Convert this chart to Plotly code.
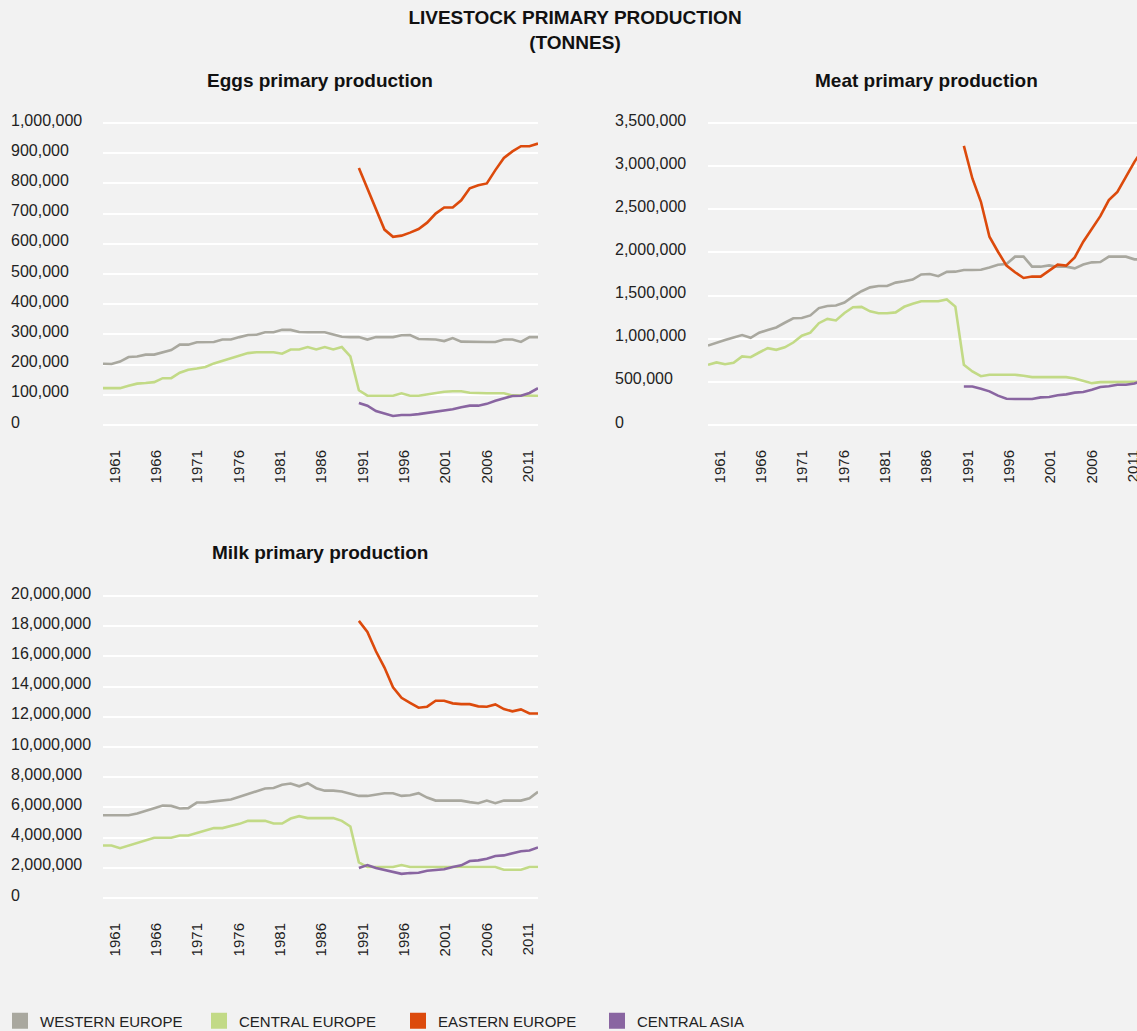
import plotly.graph_objects as go

# ---- data (thousand tonnes for eggs/meat, million tonnes for milk) ----
years_all = list(range(1961, 2013))
years_post = list(range(1991, 2013))
tick_years = list(range(1961, 2012, 5))

regions = ["WESTERN EUROPE", "CENTRAL EUROPE", "EASTERN EUROPE", "CENTRAL ASIA"]
colors = ["#a9a89f", "#c2da86", "#dc4a0c", "#8965a1"]

eggs_western = [203, 202, 210, 225, 227, 233, 233, 241, 248, 266,
                266, 274, 275, 275, 283, 283, 291, 298, 299, 307,
                307, 315, 315, 308, 307, 307, 307, 300, 292, 291,
                291, 283, 291, 291, 291, 297, 298, 285, 283, 283,
                278, 288, 276, 275, 275, 275, 275, 283, 283, 275,
                291, 291]
eggs_central = [122, 122, 122, 130, 137, 139, 142, 155, 155, 173,
                183, 187, 192, 204, 212, 220, 229, 238, 241, 241,
                241, 236, 250, 250, 258, 250, 258, 250, 258, 227,
                115, 97, 97, 97, 97, 105, 97, 97, 102, 105,
                110, 112, 112, 107, 105, 105, 105, 105, 98, 97,
                97, 97]
eggs_eastern = [851, 783, 717, 647, 623, 627, 637, 649, 670, 700,
                720, 720, 744, 784, 794, 800, 844, 884, 906, 923,
                923, 932]
eggs_asia = [73, 64, 46, 37, 30, 33, 33, 36, 40, 44,
             47, 52, 59, 64, 64, 70, 80, 88, 96, 97,
             106, 122]

meat_western = [921, 956, 985, 1015, 1042, 1010, 1070, 1100, 1130, 1185,
                1237, 1240, 1270, 1355, 1380, 1385, 1420, 1490, 1550, 1595,
                1611, 1611, 1650, 1665, 1685, 1745, 1750, 1725, 1775, 1777,
                1796, 1796, 1800, 1825, 1858, 1866, 1951, 1951, 1835, 1835,
                1850, 1835, 1835, 1815, 1860, 1885, 1889, 1951, 1951, 1951,
                1920, 1920]
meat_central = [698, 725, 705, 720, 795, 786, 840, 890, 871, 900,
                956, 1035, 1070, 1180, 1230, 1212, 1299, 1365, 1369, 1318,
                1295, 1295, 1305, 1370, 1405, 1434, 1434, 1434, 1455, 1372,
                698, 621, 565, 582, 582, 582, 582, 570, 555, 555,
                555, 555, 555, 540, 510, 485, 497, 497, 497, 497,
                497, 500]
meat_eastern = [3234, 2857, 2587, 2182, 2008, 1847, 1770, 1704, 1720, 1719,
                1789, 1858, 1847, 1943, 2124, 2278, 2421, 2606, 2702, 2876,
                3049, 3200]
meat_asia = [447, 447, 420, 390, 340, 305, 301, 301, 301, 320,
             324, 345, 355, 375, 382, 409, 440, 450, 466, 466,
             480, 520]

milk_western = [5.48, 5.48, 5.48, 5.48, 5.60, 5.75, 5.95, 6.12, 6.10, 5.93,
                5.95, 6.32, 6.32, 6.40, 6.48, 6.52, 6.70, 6.90, 7.10, 7.25,
                7.28, 7.50, 7.58, 7.40, 7.60, 7.27, 7.11, 7.11, 7.05, 6.90,
                6.76, 6.76, 6.85, 6.94, 6.94, 6.76, 6.80, 6.94, 6.65, 6.45,
                6.45, 6.45, 6.45, 6.35, 6.28, 6.45, 6.28, 6.45, 6.45, 6.45,
                6.61, 7.03]
milk_central = [3.48, 3.48, 3.30, 3.48, 3.63, 3.80, 3.99, 3.99, 3.99, 4.14,
                4.14, 4.30, 4.47, 4.63, 4.63, 4.76, 4.91, 5.11, 5.11, 5.11,
                4.93, 4.93, 5.26, 5.42, 5.29, 5.29, 5.29, 5.29, 5.11, 4.74,
                2.36, 2.05, 2.05, 2.05, 2.05, 2.18, 2.05, 2.05, 2.05, 2.05,
                2.05, 2.05, 2.05, 2.05, 2.05, 2.05, 2.05, 1.87, 1.87, 1.87,
                2.05, 2.05]
milk_eastern = [18.35, 17.62, 16.34, 15.26, 13.96, 13.26, 12.93, 12.60, 12.67, 13.06,
                13.06, 12.89, 12.84, 12.84, 12.69, 12.67, 12.82, 12.51, 12.36, 12.49,
                12.22, 12.22]
milk_asia = [1.98, 2.18, 1.98, 1.85, 1.72, 1.60, 1.65, 1.67, 1.80, 1.83,
             1.90, 2.05, 2.16, 2.45, 2.49, 2.60, 2.78, 2.82, 2.95, 3.10,
             3.15, 3.35]

eggs_ticks = list(range(0, 1000001, 100000))
meat_ticks = list(range(0, 3500001, 500000))
milk_ticks = list(range(0, 20000001, 2000000))

FONT = "Liberation Sans, Arial, Helvetica, sans-serif"
BG = "#f2f2f2"
W, H = 1137, 1031
PAD = 2  # px kept above/below the outer gridlines so they are not dropped
# year labels in the original sit on a slightly tighter pitch than the data
LABEL_OFFSET = 12      # px from plot left edge to first label
LABEL_PITCH = 413 / 50  # px per year between labels

fig = go.Figure()


def add_panel(xa, ya, series, scale):
    """Adds the four regional lines of one panel"""
    for i, (yrs, vals) in enumerate(series):
        fig.add_trace(go.Scatter(
            x=yrs, y=[v * scale for v in vals],
            mode="lines", line=dict(color=colors[i], width=2.6),
            xaxis=xa, yaxis=ya, showlegend=False, hoverinfo="skip"))


def x_axis(left_px, right_px, end_year, anchor):
    return dict(domain=[left_px / W, right_px / W], range=[1961, end_year], anchor=anchor,
                showticklabels=False, showgrid=False, zeroline=False, showline=False,
                ticks="", automargin=False)


def label_axis(left_px, right_px, base, anchor):
    """overlay axis that only carries the rotated year labels"""
    r0 = 1961 - LABEL_OFFSET / LABEL_PITCH
    r1 = r0 + (right_px - left_px) / LABEL_PITCH
    return dict(overlaying=base, anchor=anchor, side="bottom",
                domain=[left_px / W, right_px / W], range=[r0, r1],
                tickvals=tick_years, ticktext=[str(y) for y in tick_years],
                tickangle=-90, showgrid=False, zeroline=False, showline=False,
                ticks="", tickfont=dict(size=15, color="#222"),
                ticklabelstandoff=19, ticklabeloverflow="allow", automargin=False)


def y_axis(top_px, bottom_px, ticks, anchor):
    """y axis whose first/last tick sit at top_px/bottom_px"""
    span = bottom_px - top_px
    vmax = ticks[-1]
    pad = vmax * PAD / span
    return dict(domain=[1 - (bottom_px + PAD) / H, 1 - (top_px - PAD) / H],
                range=[-pad, vmax + pad], tickvals=ticks, anchor=anchor,
                showticklabels=False, showgrid=True, gridcolor="white",
                gridwidth=2, zeroline=False, showline=False, ticks="",
                automargin=False)


add_panel("x", "y", [(years_all, eggs_western), (years_all, eggs_central),
                     (years_post, eggs_eastern), (years_post, eggs_asia)], 1000)
add_panel("x2", "y2", [(years_all, meat_western), (years_all, meat_central),
                       (years_post, meat_eastern), (years_post, meat_asia)], 1000)
add_panel("x3", "y3", [(years_all, milk_western), (years_all, milk_central),
                       (years_post, milk_eastern), (years_post, milk_asia)], 1e6)

# empty traces so the label axes get drawn
for xa, ya in [("x4", "y"), ("x5", "y2"), ("x6", "y3")]:
    fig.add_trace(go.Scatter(x=[None], y=[None], xaxis=xa, yaxis=ya,
                             showlegend=False, hoverinfo="skip"))

# legend-only square markers
for name, c in zip(regions, colors):
    fig.add_trace(go.Scatter(x=[None], y=[None], mode="markers", name=name,
                             marker=dict(symbol="square", size=16, color=c),
                             xaxis="x", yaxis="y"))

# the meat panel runs past the right edge of the picture (2012 falls off-canvas)
fig.update_layout(
    width=W, height=H,
    margin=dict(l=0, r=0, t=0, b=0, autoexpand=False),
    paper_bgcolor=BG, plot_bgcolor=BG,
    font=dict(family=FONT, color="#222"),
    title=dict(text="LIVESTOCK PRIMARY PRODUCTION<br>(TONNES)",
               x=575 / W, xanchor="center", y=1 - 24 / H, yanchor="middle",
               font=dict(size=19, family=FONT, color="#111", weight="bold")),
    xaxis=x_axis(103, 538, 2012, "y"),
    yaxis=y_axis(123, 425, eggs_ticks, "x"),
    xaxis2=x_axis(708, W, 2011.3, "y2"),
    yaxis2=y_axis(123, 425, meat_ticks, "x2"),
    xaxis3=x_axis(103, 538, 2012, "y3"),
    yaxis3=y_axis(596, 898, milk_ticks, "x3"),
    xaxis4=label_axis(103, 538, "x", "y"),
    xaxis5=label_axis(708, W, "x2", "y2"),
    xaxis6=label_axis(103, 538, "x3", "y3"),
    legend=dict(orientation="h", x=0, xanchor="left", y=1 - 1021 / H, yanchor="middle",
                entrywidth=154, font=dict(size=15, color="#222"),
                bgcolor="rgba(0,0,0,0)", itemsizing="trace"),
)

# left-aligned y tick labels
for ya, ticks, xpos in [("y", eggs_ticks, 9), ("y2", meat_ticks, 613), ("y3", milk_ticks, 9)]:
    for t in ticks:
        fig.add_annotation(x=xpos / W, xref="paper", xanchor="left", y=t, yref=ya,
                           yanchor="middle", yshift=3, text=f"{t:,}", showarrow=False,
                           font=dict(size=16, color="#222"))

# panel titles
for txt, xc, yc in [("Eggs primary production", 320, 80),
                     ("Meat primary production", 926, 80),
                     ("Milk primary production", 320, 552)]:
    fig.add_annotation(x=xc / W, y=1 - yc / H, xref="paper", yref="paper",
                       xanchor="center", yanchor="middle", text=txt, showarrow=False,
                       font=dict(size=19, color="#111", weight="bold"))

# page body margin would otherwise offset the figure by 8px
fig.write_html("out.html", config={"displayModeBar": False},
               post_script="document.body.style.margin='0px';"
                           "document.body.style.background='#f2f2f2';")
